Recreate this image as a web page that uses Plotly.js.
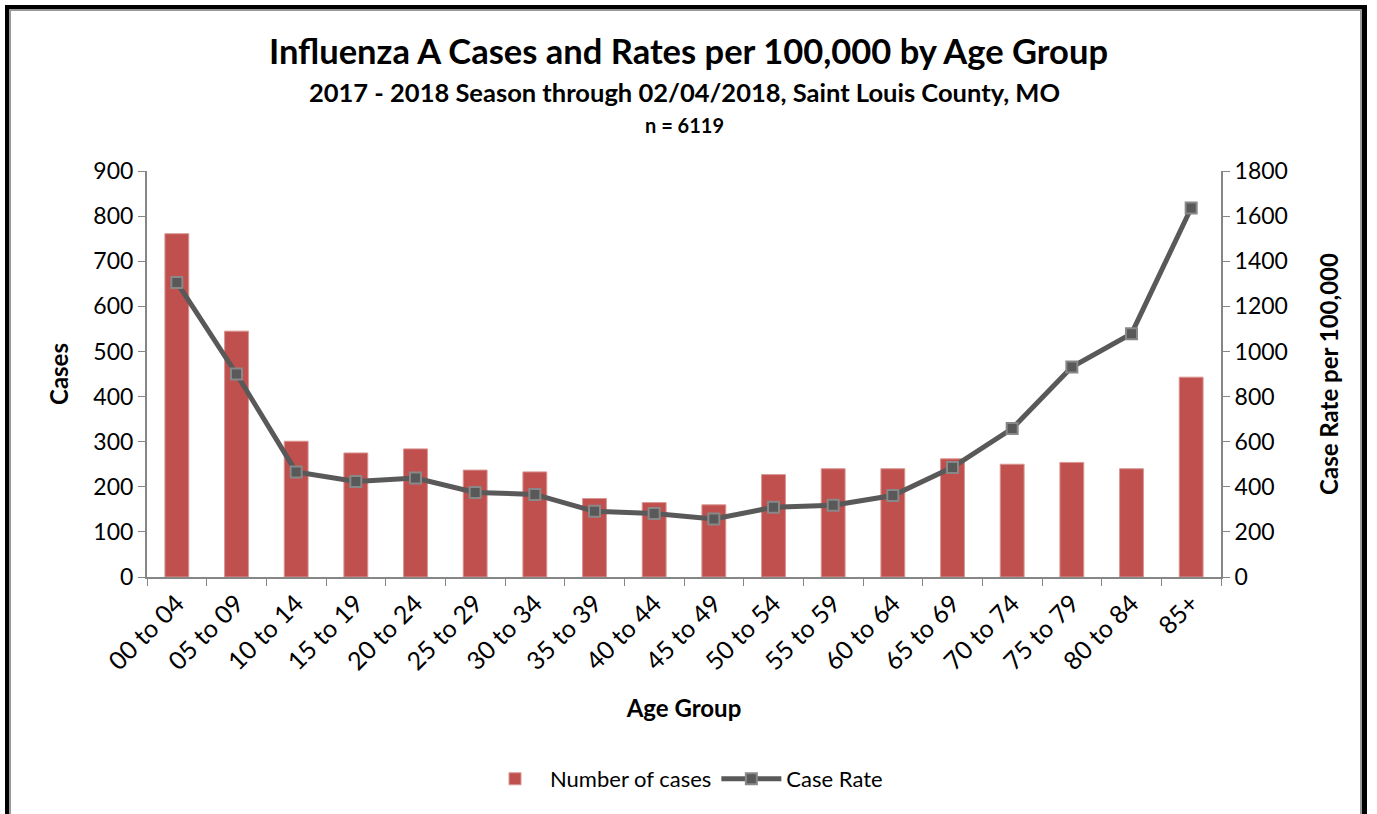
<!DOCTYPE html>
<html>
<head>
<meta charset="utf-8">
<script src="https://cdn.plot.ly/plotly-3.0.1.min.js"></script>
<style>
html,body{margin:0;padding:0;background:#fff;overflow:hidden;}
#frame{position:absolute;left:5px;top:5px;width:1362px;height:900px;border:4px solid #000;border-right-width:5px;box-sizing:border-box;}
#inner{position:absolute;left:0;top:0;right:0;bottom:0;border-left:2px solid #999;border-top:2px solid #999;border-right:2px solid #999;}
#chart{position:absolute;left:0;top:0;width:1377px;height:814px;}
</style>
</head>
<body>
<div id="frame"><div id="inner"></div></div>
<div id="chart"></div>
<script>
const categories = ["00 to 04","05 to 09","10 to 14","15 to 19","20 to 24","25 to 29","30 to 34","35 to 39","40 to 44","45 to 49","50 to 54","55 to 59","60 to 64","65 to 69","70 to 74","75 to 79","80 to 84","85+"];
const cases = [761,545,301,275,284,237,233,174,165,160,227,240,240,262,250,254,240,443];
const caseRate = [1306,900,466,423,439,375,366,291,281,257,309,318,361,486,658,931,1079,1636];
const leftTicks = [0,100,200,300,400,500,600,700,800,900];
const rightTicks = [0,200,400,600,800,1000,1200,1400,1600,1800];

const FONT = "Lato, 'Open Sans', sans-serif";

const traces = [
  {
    type: 'bar', name: 'Number of cases', x: categories, y: cases,
    marker: {color: '#C0504D', line: {color: '#D99694', width: 1}},
    yaxis: 'y', hoverinfo: 'x+y'
  },
  {
    type: 'scatter', mode: 'lines+markers', name: 'Case Rate', x: categories, y: caseRate,
    yaxis: 'y2',
    line: {color: '#595959', width: 5},
    marker: {symbol: 'square', size: 11, color: '#595959', line: {color: '#888888', width: 2}}
  }
];

const layout = {
  width: 1377, height: 814,
  paper_bgcolor: 'rgba(0,0,0,0)', plot_bgcolor: 'rgba(0,0,0,0)',
  margin: {l: 147, r: 156, t: 171, b: 237},
  font: {family: FONT, color: '#000'},
  title: {text: 'Influenza A Cases and Rates per 100,000 by Age Group', x: 0.5, xanchor: 'center', y: 0.936, yanchor: 'middle', font: {family: FONT, size: 34.5, color: '#000', weight: 'bold'}},
  bargap: 0.6,
  showlegend: true,
  legend: {orientation: 'h', x: 0.5, xanchor: 'center', y: -0.4975, yanchor: 'middle', font: {size: 22, family: FONT}, itemwidth: 60, traceorder: 'normal'},
  xaxis: {
    type: 'category', range: [-0.5, 17.5], autorange: false, tickangle: -45, tickfont: {size: 25, family: FONT}, ticks: 'outside', ticklen: 7, tickcolor: '#868686', tickson: 'boundaries',
    showline: true, linecolor: '#868686', linewidth: 2, showgrid: false, zeroline: false,
    title: {text: 'Age Group', font: {size: 24, family: FONT, weight: 'bold'}, standoff: 26}
  },
  yaxis: {
    range: [0, 900], tickvals: leftTicks, tickfont: {size: 23, family: FONT}, ticks: 'outside', ticklen: 7, tickcolor: '#868686',
    showline: true, linecolor: '#868686', linewidth: 2, showgrid: false, zeroline: false,
    title: {text: 'Cases', font: {size: 24, family: FONT, weight: 'bold'}, standoff: 18}
  },
  yaxis2: {
    range: [0, 1800], tickvals: rightTicks, overlaying: 'y', side: 'right', tickfont: {size: 23, family: FONT}, ticks: 'outside', ticklen: 7, tickcolor: '#868686',
    showline: true, linecolor: '#868686', linewidth: 2, showgrid: false, zeroline: false,
    title: {text: 'Case Rate per 100,000', font: {size: 24, family: FONT, weight: 'bold'}, standoff: 34}
  },
  annotations: [
    {text: '2017 - 2018 Season through 02/04/2018, Saint Louis County, MO', xref: 'paper', yref: 'paper', x: 0.5, y: 1.1946, xanchor: 'center', yanchor: 'middle', showarrow: false, font: {size: 25.5, family: FONT, weight: 'bold'}},
    {text: 'n = 6119', xref: 'paper', yref: 'paper', x: 0.5, y: 1.113, xanchor: 'center', yanchor: 'middle', showarrow: false, font: {size: 20, family: FONT, weight: 'bold'}}
  ]
};

Plotly.newPlot('chart', traces, layout, {displayModeBar: false, responsive: false});
</script>
</body>
</html>
